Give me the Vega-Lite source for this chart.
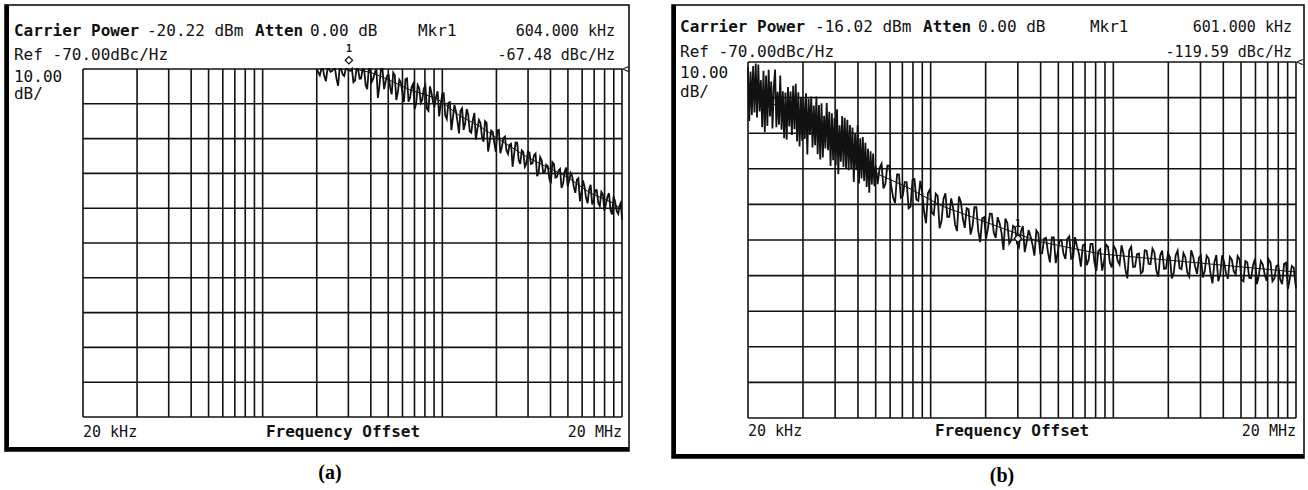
{
"$schema": "https://vega.github.io/schema/vega-lite/v6.json",
"padding": {"left": 2, "top": 2, "right": 0, "bottom": 0},
"spacing": 43,
"bounds": "flush",
"background": "#ffffff",
"config": {
  "view": {"stroke": "#000000", "strokeWidth": 1.5},
  "text": {"font": "DejaVu Sans Mono", "fontSize": 16, "baseline": "middle", "color": "#111111"},
  "line": {"color": "#111111"},
  "rule": {"color": "#111111"}
},
"datasets": {
  "vg": [{"f":20},{"f":40},{"f":60},{"f":80},{"f":100},{"f":120},{"f":140},{"f":160},{"f":180},{"f":200},{"f":400},{"f":600},{"f":800},{"f":1000},{"f":1200},{"f":1400},{"f":1600},{"f":1800},{"f":2000},{"f":4000},{"f":6000},{"f":8000},{"f":10000},{"f":12000},{"f":14000},{"f":16000},{"f":18000},{"f":20000}],
  "hg": [{"db":-70},{"db":-80},{"db":-90},{"db":-100},{"db":-110},{"db":-120},{"db":-130},{"db":-140},{"db":-150},{"db":-160},{"db":-170}],
  "sa": [{"f":650,"db":-70},{"f":800,"db":-71},{"f":986,"db":-72.9},{"f":1321,"db":-76},{"f":1868,"db":-78.5},{"f":2508,"db":-83.5},{"f":3241,"db":-86.5},{"f":4188,"db":-90.4},{"f":5920,"db":-95.3},{"f":7648,"db":-98.2},{"f":9883,"db":-101},{"f":13270,"db":-105.6},{"f":17820,"db":-108.5},{"f":20000,"db":-110.5}],
  "ta": [{"f":400,"db":-70},{"f":416,"db":-71.8},{"f":433,"db":-70},{"f":450,"db":-73.5},{"f":468,"db":-70},{"f":487,"db":-70.6},{"f":506,"db":-70},{"f":526,"db":-74.8},{"f":547,"db":-70},{"f":569,"db":-72},{"f":592,"db":-70},{"f":616,"db":-70.5},{"f":640,"db":-73.8},{"f":666,"db":-70},{"f":693,"db":-72.8},{"f":720,"db":-70},{"f":749,"db":-74.6},{"f":779,"db":-70},{"f":810,"db":-73.7},{"f":843,"db":-70.9},{"f":876,"db":-78.3},{"f":911,"db":-70},{"f":948,"db":-75.8},{"f":986,"db":-71.9},{"f":1025,"db":-75.3},{"f":1066,"db":-71},{"f":1109,"db":-78.9},{"f":1153,"db":-73.1},{"f":1199,"db":-76.8},{"f":1247,"db":-72.9},{"f":1297,"db":-79.4},{"f":1349,"db":-75.2},{"f":1403,"db":-81.6},{"f":1459,"db":-74.6},{"f":1517,"db":-79.7},{"f":1578,"db":-75.6},{"f":1641,"db":-81.4},{"f":1707,"db":-75},{"f":1775,"db":-79.5},{"f":1846,"db":-78},{"f":1920,"db":-83.6},{"f":1997,"db":-77.2},{"f":2076,"db":-83.4},{"f":2160,"db":-79.7},{"f":2246,"db":-87.6},{"f":2336,"db":-80.3},{"f":2429,"db":-85.1},{"f":2526,"db":-82},{"f":2628,"db":-87.5},{"f":2733,"db":-81.5},{"f":2842,"db":-87.9},{"f":2956,"db":-84.7},{"f":3074,"db":-90.3},{"f":3197,"db":-84.6},{"f":3325,"db":-89.5},{"f":3458,"db":-85},{"f":3596,"db":-93.7},{"f":3740,"db":-87.7},{"f":3890,"db":-91.1},{"f":4045,"db":-87.7},{"f":4207,"db":-94.2},{"f":4375,"db":-89.9},{"f":4550,"db":-93.4},{"f":4732,"db":-91.8},{"f":4922,"db":-98.1},{"f":5118,"db":-91.1},{"f":5323,"db":-96.2},{"f":5536,"db":-93.4},{"f":5758,"db":-98.1},{"f":5988,"db":-93.7},{"f":6227,"db":-97.3},{"f":6476,"db":-94.8},{"f":6736,"db":-100.8},{"f":7005,"db":-95.3},{"f":7285,"db":-99.8},{"f":7577,"db":-97.5},{"f":7880,"db":-101.5},{"f":8195,"db":-96.8},{"f":8523,"db":-101.2},{"f":8864,"db":-99.2},{"f":9218,"db":-104.2},{"f":9587,"db":-99.5},{"f":9970,"db":-103.7},{"f":10369,"db":-99.9},{"f":10784,"db":-103.9},{"f":11215,"db":-101.8},{"f":11664,"db":-108},{"f":12130,"db":-102},{"f":12616,"db":-107},{"f":13120,"db":-104.7},{"f":13645,"db":-108.9},{"f":14191,"db":-104.8},{"f":14759,"db":-108.5},{"f":15349,"db":-105.3},{"f":15963,"db":-110.7},{"f":16602,"db":-106.7},{"f":17266,"db":-110.5},{"f":17956,"db":-106.6},{"f":18675,"db":-110.8},{"f":19422,"db":-109.1},{"f":20000,"db":-113.4},
    {"f":408,"db":-71},{"f":424,"db":-70},{"f":441,"db":-72.1},{"f":459,"db":-70},{"f":477,"db":-70.8},{"f":496,"db":-70},{"f":516,"db":-73},{"f":536,"db":-70},{"f":558,"db":-71.6},{"f":580,"db":-70},{"f":604,"db":-70.4},{"f":628,"db":-70},{"f":653,"db":-73.3},{"f":679,"db":-70},{"f":706,"db":-72.7},{"f":734,"db":-70.1},{"f":764,"db":-75.8},{"f":794,"db":-70},{"f":826,"db":-72.8},{"f":859,"db":-70},{"f":893,"db":-74.9},{"f":929,"db":-70},{"f":967,"db":-73.6},{"f":1005,"db":-71.7},{"f":1045,"db":-77.3},{"f":1087,"db":-71.7},{"f":1131,"db":-76.7},{"f":1176,"db":-73.9},{"f":1223,"db":-79.5},{"f":1272,"db":-72.7},{"f":1323,"db":-78.2},{"f":1376,"db":-74.3},{"f":1431,"db":-79.9},{"f":1488,"db":-75.5},{"f":1547,"db":-78.8},{"f":1609,"db":-74.7},{"f":1674,"db":-82},{"f":1741,"db":-76.9},{"f":1810,"db":-80.7},{"f":1883,"db":-76.4},{"f":1958,"db":-80.3},{"f":2036,"db":-77},{"f":2118,"db":-84.4},{"f":2203,"db":-79.5},{"f":2291,"db":-84},{"f":2382,"db":-82.2},{"f":2477,"db":-88.5},{"f":2577,"db":-81.3},{"f":2680,"db":-85.6},{"f":2787,"db":-83.1},{"f":2899,"db":-88.3},{"f":3015,"db":-82.6},{"f":3135,"db":-87.3},{"f":3261,"db":-85.5},{"f":3391,"db":-90.9},{"f":3527,"db":-85.5},{"f":3668,"db":-91.1},{"f":3815,"db":-88.1},{"f":3967,"db":-93.8},{"f":4126,"db":-87.5},{"f":4291,"db":-92.4},{"f":4462,"db":-89.4},{"f":4641,"db":-94.4},{"f":4827,"db":-91.5},{"f":5020,"db":-94.4},{"f":5220,"db":-91.2},{"f":5429,"db":-97.3},{"f":5647,"db":-93.9},{"f":5872,"db":-97.2},{"f":6107,"db":-94},{"f":6351,"db":-97.1},{"f":6605,"db":-94.3},{"f":6869,"db":-99.8},{"f":7144,"db":-96.2},{"f":7429,"db":-99.7},{"f":7727,"db":-97.9},{"f":8036,"db":-102.9},{"f":8357,"db":-97.3},{"f":8692,"db":-101},{"f":9039,"db":-98.7},{"f":9401,"db":-102.9},{"f":9777,"db":-98.3},{"f":10168,"db":-102.1},{"f":10575,"db":-100.9},{"f":10998,"db":-105.6},{"f":11438,"db":-101.4},{"f":11895,"db":-105.7},{"f":12371,"db":-103.8},{"f":12866,"db":-108.6},{"f":13380,"db":-103.3},{"f":13916,"db":-107.8},{"f":14472,"db":-104.8},{"f":15051,"db":-109.4},{"f":15653,"db":-106},{"f":16279,"db":-108.8},{"f":16930,"db":-105.7},{"f":17608,"db":-111.8},{"f":18312,"db":-108.1},{"f":19045,"db":-111.6},{"f":19710,"db":-108.4}],
  "sb": [{"f":20,"db":-78.4},{"f":26.8,"db":-81.5},{"f":37.7,"db":-85.5},{"f":71.1,"db":-94.4},{"f":95.3,"db":-100.4},{"f":105,"db":-101.7},{"f":147.8,"db":-105.1},{"f":229.4,"db":-110.4},{"f":500.7,"db":-116.8},{"f":776.7,"db":-120.4},{"f":1695,"db":-123.9},{"f":5741,"db":-126.4},{"f":20000,"db":-129}],
  "tb": [{"f":20,"db":-71.4},{"f":21,"db":-84.9},{"f":22.05,"db":-70.4},{"f":23.15,"db":-83.9},{"f":24.31,"db":-72.5},{"f":25.53,"db":-88},{"f":26.8,"db":-75.5},{"f":28.14,"db":-72.1},{"f":29.55,"db":-87.6},{"f":31.03,"db":-78.2},{"f":32.58,"db":-91.8},{"f":34.21,"db":-78.3},{"f":35.92,"db":-88.9},{"f":37.71,"db":-78.5},{"f":39.6,"db":-92.1},{"f":41.58,"db":-78.8},{"f":43.66,"db":-90.5},{"f":45.84,"db":-82.2},{"f":48.13,"db":-95.9},{"f":50.54,"db":-81.6},{"f":53.07,"db":-94.3},{"f":55.72,"db":-84},{"f":58.5,"db":-97.6},{"f":61.43,"db":-83.3},{"f":64.5,"db":-98},{"f":67.73,"db":-85.7},{"f":71.11,"db":-100.4},{"f":74.67,"db":-88.4},{"f":78.4,"db":-100.4},{"f":82.32,"db":-91.4},{"f":86.44,"db":-103.4},{"f":90.76,"db":-94.4},{"f":95.3,"db":-104.4},{"f":100.07,"db":-99.2},{"f":105.07,"db":-99.8},{"f":110.32,"db":-105.5},{"f":115.84,"db":-99.1},{"f":121.63,"db":-104.8},{"f":127.71,"db":-109.6},{"f":134.1,"db":-101.6},{"f":140.8,"db":-107.6},{"f":147.84,"db":-103.8},{"f":155.24,"db":-110.6},{"f":163,"db":-102.9},{"f":171.15,"db":-109},{"f":179.71,"db":-106.5},{"f":188.69,"db":-115.3},{"f":198.13,"db":-105.8},{"f":208.03,"db":-112.9},{"f":218.44,"db":-107.6},{"f":229.36,"db":-114.6},{"f":240.83,"db":-106.9},{"f":252.87,"db":-113.5},{"f":265.51,"db":-111},{"f":278.79,"db":-117.5},{"f":292.73,"db":-109.3},{"f":307.36,"db":-116.6},{"f":322.73,"db":-111.4},{"f":338.87,"db":-116.2},{"f":355.81,"db":-110.8},{"f":373.6,"db":-120.6},{"f":392.28,"db":-113.6},{"f":411.9,"db":-116.7},{"f":432.49,"db":-112.7},{"f":454.12,"db":-119.4},{"f":476.82,"db":-115.3},{"f":500.66,"db":-122.8},{"f":525.7,"db":-115.2},{"f":551.98,"db":-120},{"f":579.58,"db":-116.4},{"f":608.56,"db":-122},{"f":638.99,"db":-116.1},{"f":670.94,"db":-120.5},{"f":704.48,"db":-119},{"f":739.71,"db":-124.4},{"f":776.69,"db":-118.1},{"f":815.53,"db":-123.7},{"f":856.3,"db":-119.4},{"f":899.12,"db":-126.3},{"f":944.07,"db":-119.3},{"f":991.28,"db":-123.6},{"f":1040.8,"db":-120.1},{"f":1092.9,"db":-125.3},{"f":1147.5,"db":-119},{"f":1204.9,"db":-125},{"f":1265.1,"db":-121.8},{"f":1328.4,"db":-127.5},{"f":1394.8,"db":-121.2},{"f":1464.5,"db":-125.6},{"f":1537.8,"db":-121.1},{"f":1614.7,"db":-128.7},{"f":1695.4,"db":-122.6},{"f":1780.2,"db":-125.9},{"f":1869.2,"db":-121.9},{"f":1962.6,"db":-127.7},{"f":2060.8,"db":-122.7},{"f":2163.8,"db":-126.9},{"f":2272,"db":-123.8},{"f":2385.6,"db":-130.8},{"f":2504.9,"db":-121.9},{"f":2630.1,"db":-127.5},{"f":2761.6,"db":-123.8},{"f":2899.7,"db":-128.9},{"f":3044.7,"db":-123.1},{"f":3197,"db":-126.8},{"f":3356.8,"db":-123.5},{"f":3524.7,"db":-130.3},{"f":3700.9,"db":-123},{"f":3886,"db":-128},{"f":4080.3,"db":-124.8},{"f":4284.3,"db":-129.2},{"f":4498.5,"db":-123},{"f":4723.4,"db":-128.2},{"f":4959.6,"db":-124.9},{"f":5207.6,"db":-130.3},{"f":5468,"db":-124.6},{"f":5741.4,"db":-129.5},{"f":6028.4,"db":-124.3},{"f":6329.8,"db":-128.7},{"f":6646.3,"db":-125.2},{"f":6978.7,"db":-132.2},{"f":7327.6,"db":-124.2},{"f":7694,"db":-129.6},{"f":8078.7,"db":-126.1},{"f":8482.6,"db":-130.9},{"f":8906.7,"db":-125.5},{"f":9352.1,"db":-129.7},{"f":9819.7,"db":-125.4},{"f":10311,"db":-131.6},{"f":10826,"db":-126.3},{"f":11367,"db":-130.7},{"f":11936,"db":-125.3},{"f":12533,"db":-129.8},{"f":13159,"db":-126.9},{"f":13817,"db":-131.5},{"f":14508,"db":-126.3},{"f":15233,"db":-130.8},{"f":15995,"db":-127},{"f":16795,"db":-132.4},{"f":17635,"db":-126.4},{"f":18516,"db":-130.8},{"f":19442,"db":-127.8},{"f":20000,"db":-133.5},
    {"f":20.33,"db":-86.6},{"f":20.66,"db":-72.7},{"f":21.34,"db":-71.1},{"f":21.7,"db":-84.2},{"f":22.41,"db":-85.6},{"f":22.78,"db":-70.7},{"f":23.53,"db":-75.1},{"f":23.92,"db":-88.3},{"f":24.71,"db":-89.7},{"f":25.11,"db":-73.8},{"f":25.95,"db":-72.2},{"f":26.38,"db":-85.3},{"f":27.24,"db":-88.7},{"f":27.69,"db":-76.9},{"f":28.6,"db":-88.3},{"f":29.07,"db":-78.4},{"f":30.03,"db":-73.8},{"f":30.53,"db":-89},{"f":31.54,"db":-91.4},{"f":32.06,"db":-78.6},{"f":33.11,"db":-77},{"f":33.66,"db":-88.1},{"f":34.77,"db":-90.5},{"f":35.34,"db":-76.7},{"f":36.51,"db":-76.1},{"f":37.11,"db":-92.3},{"f":38.33,"db":-93.7},{"f":38.96,"db":-79.9},{"f":40.25,"db":-80.3},{"f":40.91,"db":-91.6},{"f":42.26,"db":-96},{"f":42.96,"db":-80.3},{"f":44.38,"db":-79.7},{"f":45.1,"db":-94},{"f":46.59,"db":-93.4},{"f":47.36,"db":-79.7},{"f":48.92,"db":-82.1},{"f":49.72,"db":-97.4},{"f":51.37,"db":-96.8},{"f":52.21,"db":-85.1},{"f":53.94,"db":-81.5},{"f":54.83,"db":-94.8},{"f":56.63,"db":-99.2},{"f":57.56,"db":-84.4},{"f":59.46,"db":-85.8},{"f":60.44,"db":-99.1},{"f":62.44,"db":-101.5},{"f":63.46,"db":-87.8},{"f":65.56,"db":-85.2},{"f":66.64,"db":-99.5},{"f":68.84,"db":-99.9},{"f":69.97,"db":-86.2},{"f":72.28,"db":-87.7},{"f":73.46,"db":-100.1},{"f":75.89,"db":-103.7},{"f":77.14,"db":-90.1},{"f":79.69,"db":-87.7},{"f":81,"db":-104.1},{"f":83.67,"db":-102.7},{"f":85.05,"db":-91.1},{"f":87.86,"db":-92.7},{"f":89.3,"db":-105.1},{"f":92.25,"db":-106.7},{"f":93.76,"db":-95.1},{"f":96.86,"db":-95.7},{"f":98.45,"db":-104.9},
    {"f":102.5,"db":-104.3},{"f":107.7,"db":-98.6},{"f":113,"db":-104.3},{"f":118.7,"db":-99.1},{"f":124.6,"db":-108.1},{"f":130.9,"db":-101.6},{"f":137.4,"db":-108.1},{"f":144.3,"db":-103.7},{"f":151.5,"db":-111.1},{"f":159.1,"db":-103.1},{"f":167,"db":-108.6},{"f":175.4,"db":-103.4},{"f":184.1,"db":-112},{"f":193.3,"db":-106.8},{"f":203,"db":-112.3},{"f":213.2,"db":-107},{"f":223.8,"db":-116.7},{"f":235,"db":-108.5},{"f":246.8,"db":-113.5},{"f":259.1,"db":-108.3},{"f":272.1,"db":-115.7},{"f":285.7,"db":-107.8},{"f":300,"db":-113.9},{"f":314.9,"db":-111.1},{"f":330.7,"db":-118.5},{"f":347.2,"db":-110.8},{"f":364.6,"db":-117.6},{"f":382.8,"db":-113.9},{"f":402,"db":-119.6},{"f":422.1,"db":-112.6},{"f":443.2,"db":-118},{"f":465.3,"db":-113.6},{"f":488.6,"db":-118},{"f":513,"db":-114},{"f":538.7,"db":-121},{"f":565.6,"db":-116},{"f":593.9,"db":-121},{"f":623.6,"db":-117.7},{"f":654.8,"db":-123.4},{"f":687.5,"db":-117.2},{"f":721.9,"db":-121.3},{"f":758,"db":-117.3},{"f":795.9,"db":-123.8},{"f":835.7,"db":-119.6},{"f":877.4,"db":-123.5},{"f":921.3,"db":-119.3},{"f":967.4,"db":-126.5},{"f":1015.8,"db":-120.1},{"f":1066.5,"db":-123.8},{"f":1119.9,"db":-119.7},{"f":1175.8,"db":-125.3},{"f":1234.7,"db":-119.2},{"f":1296.3,"db":-123.8},{"f":1361.2,"db":-121.5},{"f":1429.2,"db":-127.1},{"f":1500.7,"db":-121.1},{"f":1575.8,"db":-126.2},{"f":1654.6,"db":-123.1},{"f":1737.3,"db":-128.6},{"f":1824.2,"db":-121.3},{"f":1915.4,"db":-126.4},{"f":2011.1,"db":-121.7},{"f":2111.7,"db":-125.8},{"f":2217.3,"db":-121.5},{"f":2328.1,"db":-128.2},{"f":2444.6,"db":-122.9},{"f":2566.8,"db":-127.6},{"f":2695.1,"db":-124},{"f":2829.8,"db":-129.4},{"f":2971.3,"db":-122.9},{"f":3119.9,"db":-126.7},{"f":3275.9,"db":-122.4},{"f":3439.7,"db":-128.6},{"f":3611.7,"db":-124.3},{"f":3792.3,"db":-128.1},{"f":3981.9,"db":-123.7},{"f":4181,"db":-130.8},{"f":4390,"db":-124.3},{"f":4609.6,"db":-127.9},{"f":4840,"db":-123.7},{"f":5082,"db":-129.2},{"f":5336.2,"db":-122.9},{"f":5603,"db":-127.4},{"f":5883.2,"db":-125},{"f":6177.3,"db":-130.5},{"f":6486.2,"db":-124.4},{"f":6810.5,"db":-129.4},{"f":7151,"db":-126.2},{"f":7508.6,"db":-131.6},{"f":7884,"db":-124.3},{"f":8278.2,"db":-129.4},{"f":8692.1,"db":-124.7},{"f":9126.7,"db":-128.8},{"f":9583.1,"db":-124.5},{"f":10062,"db":-131.2},{"f":10566,"db":-125.9},{"f":11093,"db":-130.6},{"f":11648,"db":-127},{"f":12231,"db":-132.4},{"f":12843,"db":-125.9},{"f":13484,"db":-129.7},{"f":14158,"db":-125.4},{"f":14866,"db":-131.6},{"f":15610,"db":-127.3},{"f":16390,"db":-131.1},{"f":17210,"db":-126.7},{"f":18071,"db":-133.8},{"f":18973,"db":-127.3},{"f":19722,"db":-130.9}]
},
"hconcat": [
{
  "width": 624, "height": 446,
  "title": {"text": "(a)", "orient": "bottom", "font": "Liberation Serif", "fontSize": 20, "fontWeight": "bold", "offset": 10, "dx": 13, "color": "#000000"},
  "layer": [
    {"data": {"name": "vg"}, "mark": {"type": "rule", "strokeWidth": 1.6},
     "encoding": {"x": {"field": "f", "type": "quantitative", "scale": {"type": "log", "domain": [7.362, 21878], "nice": false}, "axis": null},
                  "y": {"datum": -70, "type": "quantitative", "scale": {"domain": [-179.77, -51.61], "nice": false, "zero": false}, "axis": null},
                  "y2": {"datum": -170}}},
    {"data": {"name": "hg"}, "mark": {"type": "rule", "strokeWidth": 1.6},
     "encoding": {"y": {"field": "db", "type": "quantitative", "scale": {"domain": [-179.77, -51.61], "nice": false, "zero": false}, "axis": null},
                  "x": {"datum": 20, "type": "quantitative", "scale": {"type": "log", "domain": [7.362, 21878], "nice": false}, "axis": null},
                  "x2": {"datum": 20000}}},
    {"data": {"name": "sa"}, "mark": {"type": "line", "strokeWidth": 1},
     "encoding": {"x": {"field": "f", "type": "quantitative", "scale": {"type": "log", "domain": [7.362, 21878], "nice": false}, "axis": null},
                  "y": {"field": "db", "type": "quantitative", "scale": {"domain": [-179.77, -51.61], "nice": false, "zero": false}, "axis": null}}},
    {"data": {"name": "ta"}, "mark": {"type": "line", "strokeWidth": 1.8},
     "encoding": {"x": {"field": "f", "type": "quantitative", "scale": {"type": "log", "domain": [7.362, 21878], "nice": false}, "axis": null},
                  "y": {"field": "db", "type": "quantitative", "scale": {"domain": [-179.77, -51.61], "nice": false, "zero": false}, "axis": null}}},
    {"data": {"values": [{}]}, "mark": {"type": "point", "shape": "diamond", "size": 55, "filled": true, "fill": "#ffffff", "stroke": "#111111", "strokeWidth": 1.2, "opacity": 1},
     "encoding": {"x": {"datum": 604, "type": "quantitative", "scale": {"type": "log", "domain": [7.362, 21878], "nice": false}, "axis": null},
                  "y": {"datum": -67.48, "type": "quantitative", "scale": {"domain": [-179.77, -51.61], "nice": false, "zero": false}, "axis": null}}},
    {"data": {"values": [{}]}, "mark": {"type": "text", "text": "1", "fontSize": 10, "fontWeight": "bold", "align": "center"},
     "encoding": {"x": {"datum": 604, "type": "quantitative", "scale": {"type": "log", "domain": [7.362, 21878], "nice": false}, "axis": null},
                  "y": {"datum": -64.3, "type": "quantitative", "scale": {"domain": [-179.77, -51.61], "nice": false, "zero": false}, "axis": null}}},
    {"data": {"values": [{}]}, "mark": {"type": "text", "text": "<", "fontSize": 12, "align": "left"},
     "encoding": {"x": {"datum": 20000, "type": "quantitative", "scale": {"type": "log", "domain": [7.362, 21878], "nice": false}, "axis": null},
                  "y": {"datum": -70, "type": "quantitative", "scale": {"domain": [-179.77, -51.61], "nice": false, "zero": false}, "axis": null}}},
    {"data": {"values": [{}]}, "mark": {"type": "text", "text": "Carrier Power", "fontWeight": "bold", "align": "left"},
     "encoding": {"x": {"datum": 8.26, "type": "quantitative", "scale": {"type": "log", "domain": [7.362, 21878], "nice": false}, "axis": null},
                  "y": {"datum": -59.2, "type": "quantitative", "scale": {"domain": [-179.77, -51.61], "nice": false, "zero": false}, "axis": null}}},
    {"data": {"values": [{}]}, "mark": {"type": "text", "text": "-20.22 dBm", "align": "left"},
     "encoding": {"x": {"datum": 45.42, "type": "quantitative", "scale": {"type": "log", "domain": [7.362, 21878], "nice": false}, "axis": null},
                  "y": {"datum": -59.2, "type": "quantitative", "scale": {"domain": [-179.77, -51.61], "nice": false, "zero": false}, "axis": null}}},
    {"data": {"values": [{}]}, "mark": {"type": "text", "text": "Atten", "fontWeight": "bold", "align": "left"},
     "encoding": {"x": {"datum": 181.3, "type": "quantitative", "scale": {"type": "log", "domain": [7.362, 21878], "nice": false}, "axis": null},
                  "y": {"datum": -59.2, "type": "quantitative", "scale": {"domain": [-179.77, -51.61], "nice": false, "zero": false}, "axis": null}}},
    {"data": {"values": [{}]}, "mark": {"type": "text", "text": "0.00 dB", "align": "left"},
     "encoding": {"x": {"datum": 366.9, "type": "quantitative", "scale": {"type": "log", "domain": [7.362, 21878], "nice": false}, "axis": null},
                  "y": {"datum": -59.2, "type": "quantitative", "scale": {"domain": [-179.77, -51.61], "nice": false, "zero": false}, "axis": null}}},
    {"data": {"values": [{}]}, "mark": {"type": "text", "text": "Mkr1", "align": "left"},
     "encoding": {"x": {"datum": 1464, "type": "quantitative", "scale": {"type": "log", "domain": [7.362, 21878], "nice": false}, "axis": null},
                  "y": {"datum": -59.2, "type": "quantitative", "scale": {"domain": [-179.77, -51.61], "nice": false, "zero": false}, "axis": null}}},
    {"data": {"values": [{}]}, "mark": {"type": "text", "text": "604.000 kHz", "align": "right", "fontSize": 15},
     "encoding": {"x": {"datum": 18283, "type": "quantitative", "scale": {"type": "log", "domain": [7.362, 21878], "nice": false}, "axis": null},
                  "y": {"datum": -59.2, "type": "quantitative", "scale": {"domain": [-179.77, -51.61], "nice": false, "zero": false}, "axis": null}}},
    {"data": {"values": [{}]}, "mark": {"type": "text", "text": "Ref -70.00dBc/Hz", "align": "left"},
     "encoding": {"x": {"datum": 8.26, "type": "quantitative", "scale": {"type": "log", "domain": [7.362, 21878], "nice": false}, "axis": null},
                  "y": {"datum": -66.0, "type": "quantitative", "scale": {"domain": [-179.77, -51.61], "nice": false, "zero": false}, "axis": null}}},
    {"data": {"values": [{}]}, "mark": {"type": "text", "text": "-67.48 dBc/Hz", "align": "right", "fontSize": 15},
     "encoding": {"x": {"datum": 18283, "type": "quantitative", "scale": {"type": "log", "domain": [7.362, 21878], "nice": false}, "axis": null},
                  "y": {"datum": -66.0, "type": "quantitative", "scale": {"domain": [-179.77, -51.61], "nice": false, "zero": false}, "axis": null}}},
    {"data": {"values": [{}]}, "mark": {"type": "text", "text": "10.00", "align": "left"},
     "encoding": {"x": {"datum": 8.26, "type": "quantitative", "scale": {"type": "log", "domain": [7.362, 21878], "nice": false}, "axis": null},
                  "y": {"datum": -72.3, "type": "quantitative", "scale": {"domain": [-179.77, -51.61], "nice": false, "zero": false}, "axis": null}}},
    {"data": {"values": [{}]}, "mark": {"type": "text", "text": "dB/", "align": "left"},
     "encoding": {"x": {"datum": 8.26, "type": "quantitative", "scale": {"type": "log", "domain": [7.362, 21878], "nice": false}, "axis": null},
                  "y": {"datum": -77.2, "type": "quantitative", "scale": {"domain": [-179.77, -51.61], "nice": false, "zero": false}, "axis": null}}},
    {"data": {"values": [{}]}, "mark": {"type": "text", "text": "20 kHz", "align": "left", "fontSize": 15},
     "encoding": {"x": {"datum": 20, "type": "quantitative", "scale": {"type": "log", "domain": [7.362, 21878], "nice": false}, "axis": null},
                  "y": {"datum": -174.3, "type": "quantitative", "scale": {"domain": [-179.77, -51.61], "nice": false, "zero": false}, "axis": null}}},
    {"data": {"values": [{}]}, "mark": {"type": "text", "text": "Frequency Offset", "fontWeight": "bold", "align": "center"},
     "encoding": {"x": {"datum": 560, "type": "quantitative", "scale": {"type": "log", "domain": [7.362, 21878], "nice": false}, "axis": null},
                  "y": {"datum": -174.3, "type": "quantitative", "scale": {"domain": [-179.77, -51.61], "nice": false, "zero": false}, "axis": null}}},
    {"data": {"values": [{}]}, "mark": {"type": "text", "text": "20 MHz", "align": "right", "fontSize": 15},
     "encoding": {"x": {"datum": 20000, "type": "quantitative", "scale": {"type": "log", "domain": [7.362, 21878], "nice": false}, "axis": null},
                  "y": {"datum": -174.3, "type": "quantitative", "scale": {"domain": [-179.77, -51.61], "nice": false, "zero": false}, "axis": null}}},
    {"data": {"values": [{}]}, "mark": {"type": "rule", "strokeWidth": 4, "xOffset": 2, "color": "#000000"},
     "encoding": {"x": {"datum": 7.362, "type": "quantitative", "scale": {"type": "log", "domain": [7.362, 21878], "nice": false}, "axis": null}}},
    {"data": {"values": [{}]}, "mark": {"type": "rule", "strokeWidth": 4, "yOffset": -2, "color": "#000000"},
     "encoding": {"y": {"datum": -179.77, "type": "quantitative", "scale": {"domain": [-179.77, -51.61], "nice": false, "zero": false}, "axis": null}}}
  ]
},
{
  "width": 632, "height": 453,
  "title": {"text": "(b)", "orient": "bottom", "font": "Liberation Serif", "fontSize": 20, "fontWeight": "bold", "offset": 6, "dx": 14, "color": "#000000"},
  "layer": [
    {"data": {"name": "vg"}, "mark": {"type": "rule", "strokeWidth": 1.6},
     "encoding": {"x": {"field": "f", "type": "quantitative", "scale": {"type": "log", "domain": [7.674, 22123], "nice": false}, "axis": null},
                  "y": {"datum": -70, "type": "quantitative", "scale": {"domain": [-181.24, -53.99], "nice": false, "zero": false}, "axis": null},
                  "y2": {"datum": -170}}},
    {"data": {"name": "hg"}, "mark": {"type": "rule", "strokeWidth": 1.6},
     "encoding": {"y": {"field": "db", "type": "quantitative", "scale": {"domain": [-181.24, -53.99], "nice": false, "zero": false}, "axis": null},
                  "x": {"datum": 20, "type": "quantitative", "scale": {"type": "log", "domain": [7.674, 22123], "nice": false}, "axis": null},
                  "x2": {"datum": 20000}}},
    {"data": {"name": "sb"}, "mark": {"type": "line", "strokeWidth": 1},
     "encoding": {"x": {"field": "f", "type": "quantitative", "scale": {"type": "log", "domain": [7.674, 22123], "nice": false}, "axis": null},
                  "y": {"field": "db", "type": "quantitative", "scale": {"domain": [-181.24, -53.99], "nice": false, "zero": false}, "axis": null}}},
    {"data": {"name": "tb"}, "mark": {"type": "line", "strokeWidth": 1.8},
     "encoding": {"x": {"field": "f", "type": "quantitative", "scale": {"type": "log", "domain": [7.674, 22123], "nice": false}, "axis": null},
                  "y": {"field": "db", "type": "quantitative", "scale": {"domain": [-181.24, -53.99], "nice": false, "zero": false}, "axis": null}}},
    {"data": {"values": [{}]}, "mark": {"type": "point", "shape": "diamond", "size": 55, "filled": true, "fill": "#ffffff", "stroke": "#111111", "strokeWidth": 1.2, "opacity": 1},
     "encoding": {"x": {"datum": 601, "type": "quantitative", "scale": {"type": "log", "domain": [7.674, 22123], "nice": false}, "axis": null},
                  "y": {"datum": -119.59, "type": "quantitative", "scale": {"domain": [-181.24, -53.99], "nice": false, "zero": false}, "axis": null}}},
    {"data": {"values": [{}]}, "mark": {"type": "text", "text": "1", "fontSize": 10, "fontWeight": "bold", "align": "center"},
     "encoding": {"x": {"datum": 601, "type": "quantitative", "scale": {"type": "log", "domain": [7.674, 22123], "nice": false}, "axis": null},
                  "y": {"datum": -115.5, "type": "quantitative", "scale": {"domain": [-181.24, -53.99], "nice": false, "zero": false}, "axis": null}}},
    {"data": {"values": [{}]}, "mark": {"type": "text", "text": "<", "fontSize": 12, "align": "left"},
     "encoding": {"x": {"datum": 20000, "type": "quantitative", "scale": {"type": "log", "domain": [7.674, 22123], "nice": false}, "axis": null},
                  "y": {"datum": -70, "type": "quantitative", "scale": {"domain": [-181.24, -53.99], "nice": false, "zero": false}, "axis": null}}},
    {"data": {"values": [{}]}, "mark": {"type": "text", "text": "Carrier Power", "fontWeight": "bold", "align": "left"},
     "encoding": {"x": {"datum": 8.488, "type": "quantitative", "scale": {"type": "log", "domain": [7.674, 22123], "nice": false}, "axis": null},
                  "y": {"datum": -60.2, "type": "quantitative", "scale": {"domain": [-181.24, -53.99], "nice": false, "zero": false}, "axis": null}}},
    {"data": {"values": [{}]}, "mark": {"type": "text", "text": "-16.02 dBm", "align": "left"},
     "encoding": {"x": {"datum": 46.54, "type": "quantitative", "scale": {"type": "log", "domain": [7.674, 22123], "nice": false}, "axis": null},
                  "y": {"datum": -60.2, "type": "quantitative", "scale": {"domain": [-181.24, -53.99], "nice": false, "zero": false}, "axis": null}}},
    {"data": {"values": [{}]}, "mark": {"type": "text", "text": "Atten", "fontWeight": "bold", "align": "left"},
     "encoding": {"x": {"datum": 181.6, "type": "quantitative", "scale": {"type": "log", "domain": [7.674, 22123], "nice": false}, "axis": null},
                  "y": {"datum": -60.2, "type": "quantitative", "scale": {"domain": [-181.24, -53.99], "nice": false, "zero": false}, "axis": null}}},
    {"data": {"values": [{}]}, "mark": {"type": "text", "text": "0.00 dB", "align": "left"},
     "encoding": {"x": {"datum": 363.3, "type": "quantitative", "scale": {"type": "log", "domain": [7.674, 22123], "nice": false}, "axis": null},
                  "y": {"datum": -60.2, "type": "quantitative", "scale": {"domain": [-181.24, -53.99], "nice": false, "zero": false}, "axis": null}}},
    {"data": {"values": [{}]}, "mark": {"type": "text", "text": "Mkr1", "align": "left"},
     "encoding": {"x": {"datum": 1490, "type": "quantitative", "scale": {"type": "log", "domain": [7.674, 22123], "nice": false}, "axis": null},
                  "y": {"datum": -60.2, "type": "quantitative", "scale": {"domain": [-181.24, -53.99], "nice": false, "zero": false}, "axis": null}}},
    {"data": {"values": [{}]}, "mark": {"type": "text", "text": "601.000 kHz", "align": "right", "fontSize": 15},
     "encoding": {"x": {"datum": 19015, "type": "quantitative", "scale": {"type": "log", "domain": [7.674, 22123], "nice": false}, "axis": null},
                  "y": {"datum": -60.2, "type": "quantitative", "scale": {"domain": [-181.24, -53.99], "nice": false, "zero": false}, "axis": null}}},
    {"data": {"values": [{}]}, "mark": {"type": "text", "text": "Ref -70.00dBc/Hz", "align": "left"},
     "encoding": {"x": {"datum": 8.488, "type": "quantitative", "scale": {"type": "log", "domain": [7.674, 22123], "nice": false}, "axis": null},
                  "y": {"datum": -67.2, "type": "quantitative", "scale": {"domain": [-181.24, -53.99], "nice": false, "zero": false}, "axis": null}}},
    {"data": {"values": [{}]}, "mark": {"type": "text", "text": "-119.59 dBc/Hz", "align": "right", "fontSize": 15},
     "encoding": {"x": {"datum": 19015, "type": "quantitative", "scale": {"type": "log", "domain": [7.674, 22123], "nice": false}, "axis": null},
                  "y": {"datum": -67.2, "type": "quantitative", "scale": {"domain": [-181.24, -53.99], "nice": false, "zero": false}, "axis": null}}},
    {"data": {"values": [{}]}, "mark": {"type": "text", "text": "10.00", "align": "left"},
     "encoding": {"x": {"datum": 8.488, "type": "quantitative", "scale": {"type": "log", "domain": [7.674, 22123], "nice": false}, "axis": null},
                  "y": {"datum": -73.1, "type": "quantitative", "scale": {"domain": [-181.24, -53.99], "nice": false, "zero": false}, "axis": null}}},
    {"data": {"values": [{}]}, "mark": {"type": "text", "text": "dB/", "align": "left"},
     "encoding": {"x": {"datum": 8.488, "type": "quantitative", "scale": {"type": "log", "domain": [7.674, 22123], "nice": false}, "axis": null},
                  "y": {"datum": -78.4, "type": "quantitative", "scale": {"domain": [-181.24, -53.99], "nice": false, "zero": false}, "axis": null}}},
    {"data": {"values": [{}]}, "mark": {"type": "text", "text": "20 kHz", "align": "left", "fontSize": 15},
     "encoding": {"x": {"datum": 20, "type": "quantitative", "scale": {"type": "log", "domain": [7.674, 22123], "nice": false}, "axis": null},
                  "y": {"datum": -173.6, "type": "quantitative", "scale": {"domain": [-181.24, -53.99], "nice": false, "zero": false}, "axis": null}}},
    {"data": {"values": [{}]}, "mark": {"type": "text", "text": "Frequency Offset", "fontWeight": "bold", "align": "center"},
     "encoding": {"x": {"datum": 557.6, "type": "quantitative", "scale": {"type": "log", "domain": [7.674, 22123], "nice": false}, "axis": null},
                  "y": {"datum": -173.6, "type": "quantitative", "scale": {"domain": [-181.24, -53.99], "nice": false, "zero": false}, "axis": null}}},
    {"data": {"values": [{}]}, "mark": {"type": "text", "text": "20 MHz", "align": "right", "fontSize": 15},
     "encoding": {"x": {"datum": 20000, "type": "quantitative", "scale": {"type": "log", "domain": [7.674, 22123], "nice": false}, "axis": null},
                  "y": {"datum": -173.6, "type": "quantitative", "scale": {"domain": [-181.24, -53.99], "nice": false, "zero": false}, "axis": null}}},
    {"data": {"values": [{}]}, "mark": {"type": "rule", "strokeWidth": 4, "xOffset": 2, "color": "#000000"},
     "encoding": {"x": {"datum": 7.674, "type": "quantitative", "scale": {"type": "log", "domain": [7.674, 22123], "nice": false}, "axis": null}}},
    {"data": {"values": [{}]}, "mark": {"type": "rule", "strokeWidth": 4, "yOffset": -2, "color": "#000000"},
     "encoding": {"y": {"datum": -181.24, "type": "quantitative", "scale": {"domain": [-181.24, -53.99], "nice": false, "zero": false}, "axis": null}}}
  ]
}
]
}
